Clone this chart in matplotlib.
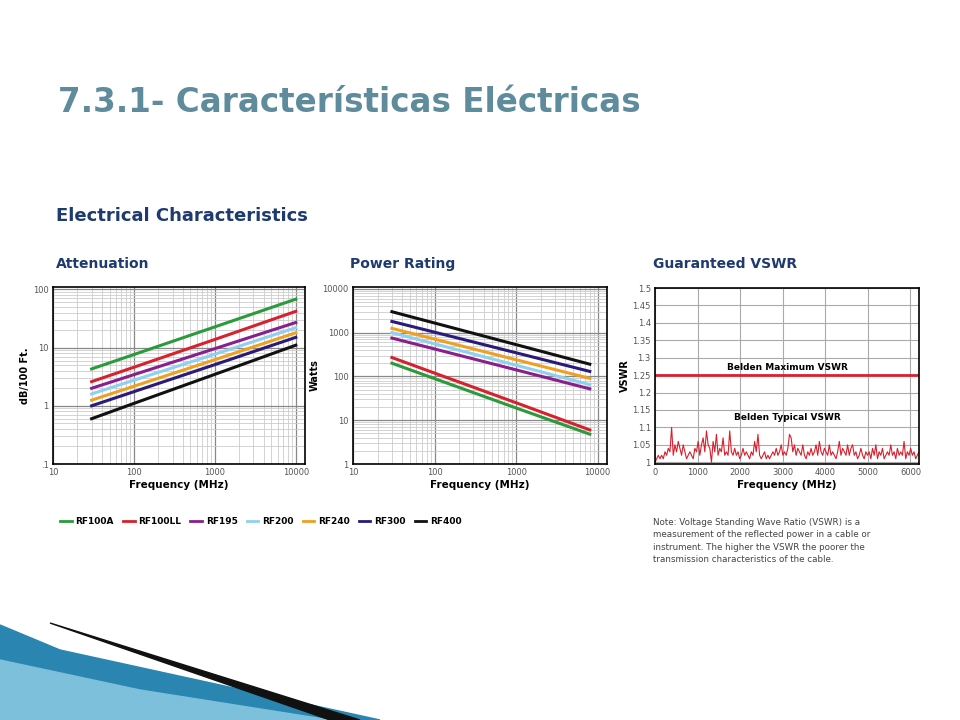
import matplotlib
matplotlib.use("Agg")
import matplotlib.pyplot as plt
from matplotlib.patches import Polygon
from matplotlib.lines import Line2D

freq_att = [30, 100, 1000, 10000]
att = {
    "RF100A": [4.3, 7.6, 22.7, 68],
    "RF100LL": [2.6, 4.6, 13.8, 42],
    "RF195": [2.0, 3.43, 9.6, 27],
    "RF200": [1.6, 2.75, 7.7, 22],
    "RF240": [1.25, 2.17, 6.2, 18],
    "RF300": [1.0, 1.75, 5.1, 15],
    "RF400": [0.6, 1.10, 3.47, 11],
}
freq_pow = [30, 100, 1000, 8000]
power = {
    "RF400": [3000, 1656, 531, 190],
    "RF300": [1800, 1022, 346, 130],
    "RF240": [1250, 710, 240, 90],
    "RF200": [1000, 555, 180, 65],
    "RF195": [750, 423, 141, 52],
    "RF100LL": [270, 119, 25, 6],
    "RF100A": [200, 89, 19, 4.8],
}
colors = {"RF100A": "#2a9a3a", "RF100LL": "#d8202e", "RF195": "#8a1e8c",
          "RF200": "#8fd0f0", "RF240": "#f0a020", "RF300": "#2a1a7a", "RF400": "#111111"}
legend_order = ["RF100A", "RF100LL", "RF195", "RF200", "RF240", "RF300", "RF400"]

vswr_max = 1.25
vswr_typ = [1.00, 1.01, 1.02, 1.01, 1.02, 1.01, 1.03, 1.02, 1.04, 1.03, 1.10, 1.02, 1.05, 1.03, 1.06, 1.04,
            1.02, 1.05, 1.03, 1.01, 1.02, 1.03, 1.02, 1.01, 1.04, 1.03, 1.06, 1.02, 1.05, 1.07, 1.03, 1.09,
            1.05, 1.04, 1.00, 1.06, 1.03, 1.08, 1.02, 1.04, 1.03, 1.07, 1.02, 1.03, 1.02, 1.09, 1.03, 1.02,
            1.04, 1.02, 1.03, 1.01, 1.02, 1.04, 1.02, 1.03, 1.02, 1.01, 1.03, 1.02, 1.06, 1.03, 1.08, 1.02,
            1.01, 1.02, 1.03, 1.01, 1.02, 1.01, 1.02, 1.03, 1.02, 1.04, 1.02, 1.03, 1.05, 1.02, 1.03, 1.02,
            1.04, 1.08, 1.07, 1.03, 1.05, 1.02, 1.04, 1.03, 1.02, 1.05, 1.02, 1.01, 1.03, 1.02, 1.04, 1.02,
            1.03, 1.05, 1.02, 1.06, 1.03, 1.02, 1.04, 1.03, 1.02, 1.05, 1.02, 1.03, 1.02, 1.01, 1.03, 1.06,
            1.02, 1.04, 1.03, 1.02, 1.05, 1.02, 1.04, 1.05, 1.02, 1.03, 1.01, 1.02, 1.04, 1.02, 1.01, 1.03,
            1.02, 1.03, 1.01, 1.04, 1.02, 1.05, 1.01, 1.03, 1.02, 1.04, 1.01, 1.02, 1.03, 1.02, 1.05, 1.02,
            1.03, 1.01, 1.04, 1.02, 1.03, 1.02, 1.06, 1.01, 1.03, 1.02, 1.04, 1.02, 1.03, 1.01, 1.02, 1.03]
vswr_f = [i * 6200 / (len(vswr_typ) - 1) for i in range(len(vswr_typ))]

W, H = 960, 720
fig = plt.figure(figsize=(9.6, 7.2), dpi=100)
fig.patch.set_facecolor("white")

def ax_px(l, t, r, b):
    return fig.add_axes([l / W, 1 - b / H, (r - l) / W, (b - t) / H])

navy = "#1e3a6e"
fig.text(58 / W, 1 - 102 / H, "7.3.1- Características Eléctricas", fontsize=23.5, color="#5e8c9c",
         fontweight="bold", va="center", family="DejaVu Sans")
fig.text(56 / W, 1 - 216 / H, "Electrical Characteristics", fontsize=13, color=navy, fontweight="bold", va="center")
for x, t in [(56, "Attenuation"), (350, "Power Rating"), (653, "Guaranteed VSWR")]:
    fig.text(x / W, 1 - 264 / H, t, fontsize=10, color=navy, fontweight="bold", va="center")

def style(ax):
    ax.grid(True, which="major", color="#888888", lw=0.9)
    ax.grid(True, which="minor", color="#cccccc", lw=0.6)
    ax.tick_params(which="both", length=0, labelsize=6, colors="#555555", pad=3)
    for s in ax.spines.values():
        s.set_linewidth(1.2)
    ax.set_axisbelow(True)

ax1 = ax_px(53, 287, 305, 464)
for k, v in att.items():
    ax1.plot(freq_att, v, color=colors[k], lw=2.2)
ax1.set_xscale("log"); ax1.set_yscale("log")
ax1.set_xlim(10, 13000); ax1.set_ylim(0.1, 110)
ax1.set_xticks([10, 100, 1000, 10000], ["10", "100", "1000", "10000"])
ax1.set_yticks([0.1, 1, 10, 100], [".1", "1", "10", "100"])
ax1.set_xlabel("Frequency (MHz)", fontsize=7.5, fontweight="bold", labelpad=2)
ax1.set_ylabel("dB/100 Ft.", fontsize=7, fontweight="bold", labelpad=2)
style(ax1)

ax2 = ax_px(353, 287, 607, 464)
for k, v in power.items():
    ax2.plot(freq_pow, v, color=colors[k], lw=2.2)
ax2.set_xscale("log"); ax2.set_yscale("log")
ax2.set_xlim(10, 13000); ax2.set_ylim(1, 11000)
ax2.set_xticks([10, 100, 1000, 10000], ["10", "100", "1000", "10000"])
ax2.set_yticks([1, 10, 100, 1000, 10000], ["1", "10", "100", "1000", "10000"])
ax2.set_xlabel("Frequency (MHz)", fontsize=7.5, fontweight="bold", labelpad=2)
ax2.set_ylabel("Watts", fontsize=7, fontweight="bold", labelpad=2)
style(ax2)

ax3 = ax_px(655, 288, 919, 464)
ax3.plot(vswr_f, vswr_typ, color="#d8202e", lw=0.8)
ax3.axhline(vswr_max, color="#d8202e", lw=2)
ax3.set_xlim(0, 6200); ax3.set_ylim(0.995, 1.5)
ax3.set_xticks(range(0, 6001, 1000))
yt = [1, 1.05, 1.1, 1.15, 1.2, 1.25, 1.3, 1.35, 1.4, 1.45, 1.5]
ax3.set_yticks(yt, ["1", "1.05", "1.1", "1.15", "1.2", "1.25", "1.3", "1.35", "1.4", "1.45", "1.5"])
ax3.grid(True, color="#aaaaaa", lw=0.8)
ax3.tick_params(length=0, labelsize=6, colors="#555555", pad=3)
for s in ax3.spines.values():
    s.set_linewidth(1.2)
ax3.set_axisbelow(True)
ax3.set_xlabel("Frequency (MHz)", fontsize=7.5, fontweight="bold", labelpad=2)
ax3.set_ylabel("VSWR", fontsize=7, fontweight="bold", labelpad=2)
ax3.text(3100, 1.265, "Belden Maximum VSWR", fontsize=6.5, fontweight="bold", ha="center")
ax3.text(3100, 1.12, "Belden Typical VSWR", fontsize=6.5, fontweight="bold", ha="center")

fig.text(653 / W, 1 - 541 / H,
         "Note: Voltage Standing Wave Ratio (VSWR) is a\nmeasurement of the reflected power in a cable or\n"
         "instrument. The higher the VSWR the poorer the\ntransmission characteristics of the cable.",
         fontsize=6.3, color="#444444", va="center", linespacing=1.5)

handles = [Line2D([0], [0], color=colors[k], lw=2) for k in legend_order]
fig.legend(handles, legend_order, loc="center left", bbox_to_anchor=(52 / W, 1 - 522 / H), ncol=7,
           frameon=False, handlelength=1.3, handletextpad=0.4, columnspacing=1.0,
           prop={"weight": "bold", "size": 6.5})

fig.patches.append(Polygon([[0, 0], [0, 95 / H], [60 / W, 70 / H], [380 / W, 0]],
                           closed=True, transform=fig.transFigure, color="#2a86b0", zorder=0))
fig.patches.append(Polygon([[0, 0], [0, 60 / H], [140 / W, 30 / H], [330 / W, 0]],
                           closed=True, transform=fig.transFigure, color="#7cc0dc", zorder=0))
fig.patches.append(Polygon([[50 / W, 97 / H], [360 / W, 0], [330 / W, 0]],
                           closed=True, transform=fig.transFigure, color="#111111", zorder=1))

fig.savefig("out.png", dpi=100)
